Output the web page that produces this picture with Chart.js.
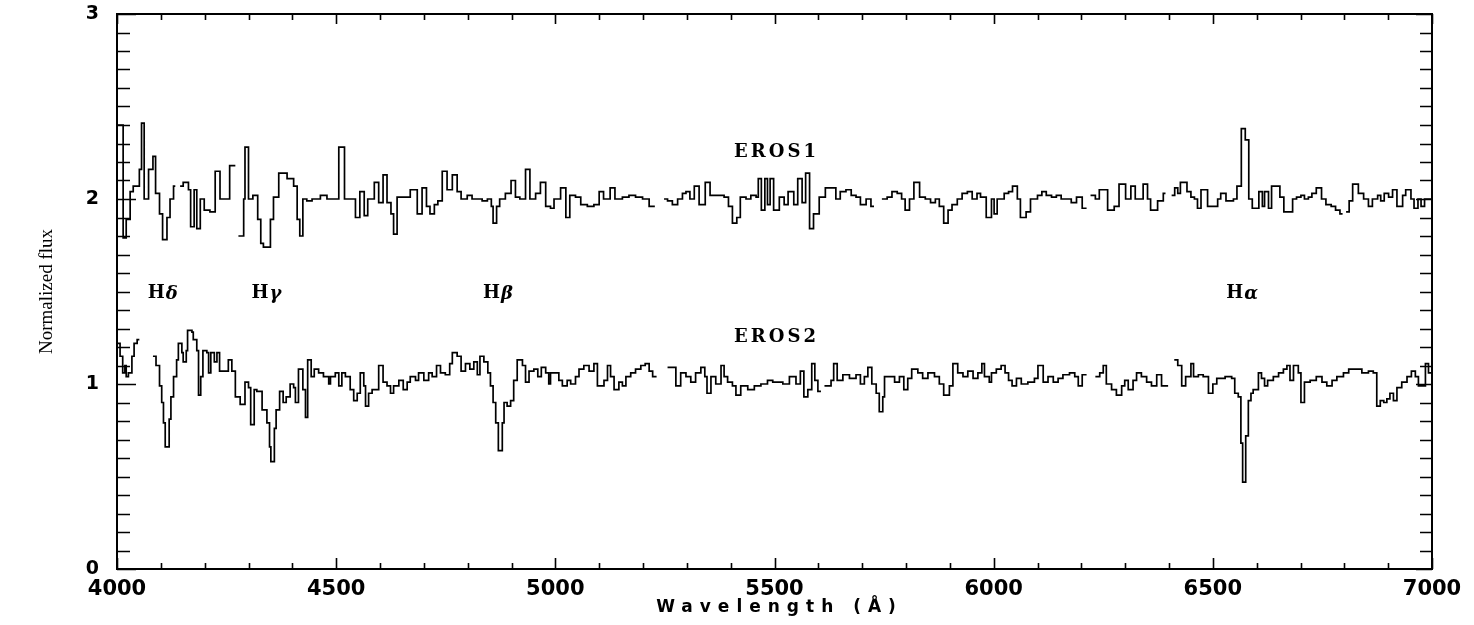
<!DOCTYPE html>
<html>
<head>
<meta charset="utf-8">
<script src="https://cdn.jsdelivr.net/npm/chart.js@4.4.1/dist/chart.umd.min.js"></script>
<style>
  html, body { margin: 0; padding: 0; background: #fff; }
  #wrap { width: 1474px; height: 625px; position: relative; }
</style>
</head>
<body>
<div id="wrap"><canvas id="spec"></canvas></div>
<script>
// EROS1 spectrum (upper), null = gap in the data
const wave1 = [4000,4014,4021,4030,4037,4051,4056,4062,4072,4082,4088,4097,4104,4114,4121,4129,4133,4135,
  4144,4151,4163,4168,4176,4182,4190,4199,4212,4224,4235,4257,4270,4272,
  4277,4289,4292,4300,4310,4321,4328,4334,4350,4357,4369,4388,4403,4411,4417,4424,4433,4445,4464,4479,
  4506,4519,4544,4554,4564,4572,4587,4597,4607,4616,4625,4631,4639,4669,4685,4696,4706,4714,4724,4732,
  4742,4753,4765,4776,4785,4799,4810,4833,4845,4854,4858,4866,4873,4886,4899,4909,4919,4932,4942,4955,
  4966,4978,4989,4997,5012,5024,5033,5046,5058,5073,5088,5100,5110,5125,5136,5153,5168,5183,5199,5214,5227,5230,
  5248,5256,5267,5279,5290,5298,5307,5317,5328,5342,5353,5385,5395,5404,5414,5422,5435,5446,5458,5463,
  5470,5478,5484,5490,5498,5511,5522,5531,5544,5553,5563,5571,5580,5589,5602,5616,5640,5650,5663,5675,
  5686,5696,5709,5720,5727,5730,
  5745,5757,5768,5780,5790,5798,5808,5818,5831,5844,5856,5867,5876,5886,5896,5905,5917,5928,5940,5951,
  5962,5970,5983,5995,6001,6008,6024,6034,6043,6054,6061,6074,6084,6100,6110,6120,6132,6143,6154,6177,
  6189,6202,6212,6215,
  6221,6232,6241,6260,6275,6286,6301,6313,6323,6341,6351,6358,6374,6387,6392,6395,
  6406,6413,6420,6426,6441,6450,6458,6465,6473,6488,6511,6518,6530,6547,6555,6565,6574,6582,6590,6605,
  6613,6618,6627,6634,6653,6662,6682,6691,6701,6709,6718,6726,6736,6748,6758,6770,6780,6790,6796,6799,
  6804,6811,6819,6832,6844,6855,6864,6876,6883,6891,6901,6910,6920,6933,6940,6952,6959,6968,6975,6983,7000];
const flux1 = [2.40,1.79,1.89,2.04,2.07,2.16,2.41,2.00,2.16,2.23,2.03,1.92,1.78,1.90,2.00,2.07,2.07,null,
  2.07,2.09,2.05,1.85,2.05,1.84,2.00,1.94,1.93,2.15,2.00,2.18,2.18,null,
  1.80,2.00,2.28,2.00,2.02,1.89,1.76,1.74,1.89,2.01,2.14,2.11,2.07,1.89,1.80,2.00,1.99,2.00,2.02,2.00,
  2.28,2.00,1.90,2.04,1.91,2.00,2.09,1.98,2.13,1.98,1.92,1.81,2.01,2.05,1.92,2.06,1.96,1.92,1.97,1.99,
  2.15,2.05,2.13,2.04,2.00,2.02,2.00,1.99,2.00,1.96,1.87,1.96,2.00,2.03,2.10,2.01,2.00,2.16,2.00,2.03,
  2.09,1.96,1.95,2.00,2.06,1.90,2.02,2.01,1.97,1.96,1.97,2.04,2.00,2.06,2.00,2.01,2.02,2.01,2.00,1.96,1.96,null,
  2.00,1.99,1.97,2.00,2.03,2.04,2.00,2.07,1.97,2.09,2.02,2.01,1.96,1.87,1.90,2.01,2.00,2.02,2.01,2.11,
  1.94,2.11,1.97,2.11,1.94,2.01,1.97,2.04,1.97,2.11,1.98,2.14,1.84,1.92,2.01,2.06,2.00,2.04,2.05,2.02,
  2.01,1.97,2.00,1.96,1.96,null,
  2.00,2.01,2.04,2.03,2.00,1.94,2.00,2.09,2.01,2.00,1.98,2.00,1.96,1.87,1.94,1.97,2.00,2.03,2.04,2.00,
  2.03,2.01,1.90,2.00,1.92,2.00,2.03,2.04,2.07,2.00,1.90,1.93,2.00,2.02,2.04,2.02,2.01,2.02,2.00,1.98,
  2.01,1.95,1.95,null,
  2.02,2.00,2.05,1.94,1.96,2.08,2.00,2.07,2.00,2.08,2.00,1.94,1.99,2.03,2.03,null,
  2.02,2.06,2.03,2.09,2.04,2.01,2.00,1.95,2.05,1.96,2.00,2.03,1.99,2.00,2.07,2.38,2.32,2.00,1.95,2.04,
  1.96,2.04,1.95,2.07,2.01,1.93,2.00,2.01,2.02,2.00,2.01,2.03,2.06,2.00,1.97,1.96,1.94,1.92,1.92,null,
  1.93,1.99,2.08,2.03,2.00,1.96,2.00,2.02,1.99,2.03,2.01,2.05,1.96,2.02,2.05,2.00,1.95,2.00,1.96,2.00,2.00];

// EROS2 spectrum (lower)
const wave2 = [4000,4007,4013,4018,4021,4026,4034,4039,4046,4051,4053,
  4082,4089,4097,4102,4106,4110,4119,4123,4129,4136,4140,4148,4151,4158,4161,4171,4174,4182,4186,4191,
  4196,4205,4209,4214,4222,4228,4234,4254,4262,4270,4281,4292,4300,4305,4313,4319,4331,4342,4348,4351,
  4359,4363,4371,4379,4386,4395,4403,4407,4414,4424,4430,4435,4443,4450,4460,4471,4483,4487,4498,4506,
  4513,4521,4532,4540,4548,4555,4563,4567,4574,4582,4597,4607,4616,4624,4631,4643,4653,4662,4669,4681,
  4688,4700,4711,4719,4729,4738,4749,4759,4765,4776,4785,4795,4805,4814,4822,4828,4837,4846,4852,4858,
  4864,4870,4879,4883,4890,4898,4905,4913,4925,4932,4940,4951,4960,4968,4978,4985,4989,5008,5016,5027,
  5035,5046,5054,5065,5077,5088,5096,5111,5119,5126,5134,5145,5153,5161,5172,5183,5195,5205,5214,5222,5231,5233,
  5256,5275,5286,5298,5309,5320,5332,5341,5346,5355,5366,5378,5385,5393,5404,5412,5423,5439,5454,5469,
  5484,5496,5519,5534,5549,5559,5567,5576,5585,5592,5599,5606,5609,
  5614,5629,5635,5643,5656,5671,5686,5696,5705,5713,5722,5732,5739,5747,5751,5774,5785,5795,5804,5813,
  5827,5838,5850,5865,5876,5886,5899,5907,5918,5930,5941,5953,5964,5973,5979,5990,5995,6006,6017,6026,
  6034,6042,6052,6063,6078,6093,6101,6113,6124,6136,6147,6158,6173,6185,6193,6202,6212,6214,
  6232,6242,6250,6257,6269,6280,6292,6299,6307,6318,6326,6337,6349,6360,6372,6383,6398,6401,
  6412,6420,6429,6438,6450,6456,6467,6478,6490,6500,6509,6528,6543,6550,6558,6564,6568,6575,6581,6587,
  6592,6604,6611,6618,6625,6638,6650,6661,6669,6676,6684,6695,6701,6709,6722,6736,6749,6760,6772,6783,
  6798,6810,6840,6855,6866,6874,6882,6890,6897,6904,6912,6920,6931,6943,6953,6962,6969,6985,6992,7000];
const flux2 = [1.22,1.15,1.06,1.10,1.04,1.06,1.15,1.22,1.24,1.24,null,
  1.15,1.10,0.99,0.90,0.79,0.66,0.81,0.93,1.04,1.13,1.22,1.17,1.12,1.18,1.29,1.28,1.24,1.18,0.94,1.04,
  1.18,1.17,1.06,1.17,1.12,1.17,1.07,1.13,1.07,0.93,0.89,1.01,0.98,0.78,0.97,0.96,0.86,0.79,0.66,0.58,
  0.76,0.86,0.96,0.90,0.93,1.00,0.98,0.90,1.08,0.97,0.82,1.13,1.04,1.08,1.06,1.04,1.00,1.04,1.06,0.99,
  1.06,1.04,0.97,0.91,0.95,1.06,0.99,0.88,0.95,0.97,1.10,1.01,0.99,0.95,0.99,1.02,0.97,1.01,1.04,1.02,
  1.06,1.02,1.06,1.04,1.10,1.06,1.05,1.11,1.17,1.15,1.07,1.11,1.08,1.12,1.05,1.15,1.12,1.06,0.99,0.90,
  0.79,0.64,0.79,0.90,0.88,0.91,1.02,1.13,1.10,1.01,1.07,1.08,1.04,1.09,1.06,1.00,1.06,1.02,0.99,1.02,
  1.00,1.04,1.08,1.10,1.07,1.11,0.99,1.02,1.10,1.04,0.97,1.01,0.99,1.04,1.06,1.08,1.10,1.11,1.07,1.04,1.04,null,
  1.09,0.99,1.06,1.04,1.01,1.06,1.09,1.04,0.95,1.04,1.00,1.10,1.04,1.01,0.99,0.94,0.99,0.97,0.99,1.00,
  1.02,1.01,1.00,1.04,1.00,1.07,0.93,0.97,1.11,1.02,0.96,0.96,null,
  0.99,1.02,1.11,1.02,1.05,1.03,1.05,1.00,1.04,1.09,1.00,0.95,0.85,0.93,1.04,1.01,1.04,0.97,1.03,1.08,
  1.06,1.03,1.06,1.04,1.00,0.94,0.99,1.11,1.06,1.04,1.07,1.03,1.06,1.11,1.04,1.01,1.06,1.08,1.10,1.06,
  1.02,0.99,1.03,1.00,1.01,1.03,1.10,1.01,1.04,1.01,1.03,1.05,1.06,1.04,0.99,1.05,1.05,null,
  1.04,1.06,1.10,1.00,0.97,0.94,0.99,1.02,0.97,1.02,1.06,1.04,1.01,0.99,1.05,0.99,0.99,null,
  1.13,1.10,0.99,1.04,1.11,1.04,1.05,1.04,0.95,1.00,1.03,1.04,1.03,0.95,0.93,0.68,0.47,0.72,0.91,0.95,
  0.97,1.06,1.03,0.99,1.02,1.04,1.06,1.08,1.10,1.02,1.10,1.06,0.90,1.01,1.02,1.04,1.01,0.99,1.02,1.04,
  1.06,1.08,1.06,1.07,1.06,0.88,0.91,0.90,0.92,0.95,0.91,0.98,1.01,1.04,1.07,1.04,0.99,1.11,1.06,1.06];

const xTickValues = [4000, 4500, 5000, 5500, 6000, 6500, 7000];
const xTickLabels = ['4000', '4500', '5000', '5500', '6000', '6500', '7000'];
const yTickValues = [0, 1, 2, 3];
const yTickLabels = ['0', '1', '2', '3'];

const seriesNames = ['EROS1', 'EROS2'];
const lineNames = ['H', 'H', 'H', 'H'];
const lineGreek = ['δ', 'γ', 'β', 'α'];
const lineWaves = [4103, 4340, 4868, 6566];

function toPoints(w, f) {
  return w.map((x, i) => ({ x: x, y: f[i] }));
}

// frame with inward ticks on all four sides, plus text labels
const frameTicks = {
  id: 'frameTicks',
  afterDraw(chart) {
    const ctx = chart.ctx;
    const a = chart.chartArea;
    const x = chart.scales.x;
    const y = chart.scales.y;
    ctx.save();
    ctx.strokeStyle = '#000';
    ctx.lineWidth = 2;
    ctx.strokeRect(a.left, a.top, a.right - a.left, a.bottom - a.top);
    ctx.lineWidth = 1.6;
    ctx.beginPath();
    for (let v = 4000; v <= 7000; v += 100) {
      const px = Math.round(x.getPixelForValue(v)) + 0.5;
      const big = v % 500 === 0;
      ctx.moveTo(px, a.bottom); ctx.lineTo(px, a.bottom - (big ? 11 : 6));
      ctx.moveTo(px, a.top); ctx.lineTo(px, a.top + (big ? 10 : 6));
    }
    for (let i = 0; i <= 30; i++) {
      const py = Math.round(y.getPixelForValue(i / 10)) + 0.5;
      const big = i % 10 === 0;
      ctx.moveTo(a.left, py); ctx.lineTo(a.left + (big ? 19 : 13), py);
      ctx.moveTo(a.right, py); ctx.lineTo(a.right - (big ? 16 : 12), py);
    }
    ctx.stroke();

    ctx.fillStyle = '#000';
    ctx.textBaseline = 'middle';
    ctx.textAlign = 'center';

    // series names
    ctx.font = 'bold 18px "DejaVu Serif"';
    ctx.letterSpacing = '3px';
    const mid = x.getPixelForValue(5500);
    ctx.fillText(seriesNames[0], mid + 2, y.getPixelForValue(2.25));
    ctx.fillText(seriesNames[1], mid + 2, y.getPixelForValue(1.25));

    // hydrogen line labels
    ctx.letterSpacing = '0px';
    ctx.textAlign = 'left';
    const ly = y.getPixelForValue(1.49);
    lineWaves.forEach((w, i) => {
      ctx.font = 'bold 18px "DejaVu Serif"';
      const hw = ctx.measureText(lineNames[i]).width;
      ctx.font = 'bold italic 18px "DejaVu Serif"';
      const gw = ctx.measureText(lineGreek[i]).width;
      const start = x.getPixelForValue(w) - (hw + gw) / 2;
      ctx.font = 'bold 18px "DejaVu Serif"';
      ctx.fillText(lineNames[i], start, ly);
      ctx.font = 'bold italic 18px "DejaVu Serif"';
      ctx.fillText(lineGreek[i], start + hw + 1, ly + 1);
    });

    // x axis title
    ctx.textAlign = 'center';
    ctx.font = 'bold 17px "DejaVu Sans"';
    ctx.letterSpacing = '7px';
    ctx.fillText('Wavelength (Å)', mid + 5, 608);
    ctx.restore();
  }
};

new Chart(document.getElementById('spec'), {
  type: 'scatter',
  data: {
    datasets: [
      { label: seriesNames[0], data: toPoints(wave1, flux1) },
      { label: seriesNames[1], data: toPoints(wave2, flux2) }
    ].map(d => Object.assign(d, {
      showLine: true,
      stepped: 'before',
      spanGaps: false,
      borderColor: '#000',
      borderWidth: 1.7,
      pointRadius: 0,
      pointHoverRadius: 0
    }))
  },
  options: {
    responsive: true,
    maintainAspectRatio: false,
    animation: false,
    devicePixelRatio: 1,
    layout: { padding: { top: 14, right: 42, left: 0, bottom: 0 } },
    plugins: { legend: { display: false }, tooltip: { enabled: false } },
    scales: {
      x: {
        type: 'linear',
        min: 4000,
        max: 7000,
        grid: { display: false, drawTicks: false },
        border: { display: false },
        afterBuildTicks: s => { s.ticks = xTickValues.map(v => ({ value: v })); },
        afterFit: s => { s.height = 56; s.paddingLeft = 0; s.paddingRight = 0; },
        ticks: {
          autoSkip: false,
          maxRotation: 0,
          padding: 8,
          color: '#000',
          font: { family: 'DejaVu Sans', size: 21, weight: 'bold' },
          callback: v => xTickLabels[xTickValues.indexOf(v)]
        }
      },
      y: {
        type: 'linear',
        min: 0,
        max: 3,
        grid: { display: false, drawTicks: false },
        border: { display: false },
        afterBuildTicks: s => { s.ticks = yTickValues.map(v => ({ value: v })); },
        afterFit: s => { s.width = 117; s.paddingTop = 0; s.paddingBottom = 0; },
        ticks: {
          padding: 18,
          color: '#000',
          font: { family: 'DejaVu Sans', size: 19, weight: 'bold' },
          callback: v => yTickLabels[yTickValues.indexOf(v)]
        },
        title: {
          display: true,
          text: 'Normalized flux',
          color: '#000',
          font: { family: 'Liberation Serif', size: 19 },
          padding: { top: 36 }
        }
      }
    }
  },
  plugins: [frameTicks]
});
</script>
</body>
</html>
